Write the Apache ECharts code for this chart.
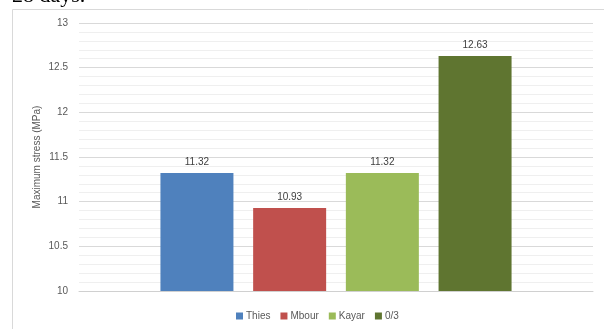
<!DOCTYPE html>
<html>
<head>
<meta charset="utf-8">
<script src="https://cdn.jsdelivr.net/npm/echarts@6/dist/echarts.min.js"></script>
<style>
  html, body { margin: 0; padding: 0; background: #fff; }
  #chart { width: 604px; height: 329px; }
</style>
</head>
<body>
<div id="chart"></div>
<script>
// Maximum stress at 28 days for each aggregate source
const categories = [''];
const seriesNames = ['Thies', 'Mbour', 'Kayar', '0/3'];
const seriesValues = [11.32, 10.93, 11.32, 12.63];
const seriesColors = ['#4f81bd', '#c0504d', '#9bbb59', '#5f7530'];
const yTicks = { min: 10, max: 13, interval: 0.5 };

const chart = echarts.init(document.getElementById('chart'), null, { renderer: 'canvas' });

const series = seriesNames.map((name, i) => ({
  name: name,
  type: 'bar',
  data: [seriesValues[i]],
  barWidth: 73,
  barGap: '27%',
  itemStyle: { color: seriesColors[i] },
  label: {
    show: true,
    position: 'top',
    distance: 6,
    color: '#404040',
    fontSize: 10,
    fontFamily: 'Liberation Sans, Arial, sans-serif',
    formatter: (p) => p.value.toFixed(2)
  }
}));

chart.setOption({
  animation: false,
  backgroundColor: '#fff',
  graphic: [
    {
      type: 'rect',
      shape: { x: 12.5, y: 9.5, width: 620, height: 340 },
      style: { fill: 'none', stroke: '#d9d9d9', lineWidth: 1 },
      z: -1
    },
    {
      type: 'text',
      left: 12,
      top: -15,
      style: {
        text: '28 days.',
        font: '22px "Liberation Serif", "Times New Roman", serif',
        fill: '#000'
      }
    }
  ],
  grid: { left: 79, right: 11, top: 23, bottom: 38 },
  legend: {
    data: seriesNames,
    bottom: 3,
    left: 231,
    itemWidth: 7,
    itemHeight: 7,
    itemGap: 10,
    icon: 'rect',
    textStyle: { color: '#595959', fontSize: 10, fontFamily: 'Liberation Sans, Arial, sans-serif', padding: [0, 0, 0, -2] }
  },
  xAxis: {
    type: 'category',
    data: categories,
    axisTick: { show: false },
    axisLabel: { show: false },
    axisLine: { show: true, lineStyle: { color: '#d0d0d0', width: 1 } }
  },
  yAxis: {
    type: 'value',
    min: yTicks.min,
    max: yTicks.max,
    interval: yTicks.interval,
    name: 'Maximum stress (MPa)',
    nameLocation: 'middle',
    nameGap: 37,
    nameMoveOverlap: false,
    nameTextStyle: { color: '#595959', fontSize: 10, fontFamily: 'Liberation Sans, Arial, sans-serif' },
    axisLine: { show: false },
    axisTick: { show: false },
    axisLabel: { color: '#595959', fontSize: 10, margin: 11, fontFamily: 'Liberation Sans, Arial, sans-serif' },
    splitLine: { show: true, lineStyle: { color: '#d9d9d9', width: 1 } },
    minorTick: { show: false, splitNumber: 5 },
    minorSplitLine: { show: true, lineStyle: { color: '#efefef', width: 1 } }
  },
  series: series
});
</script>
</body>
</html>
